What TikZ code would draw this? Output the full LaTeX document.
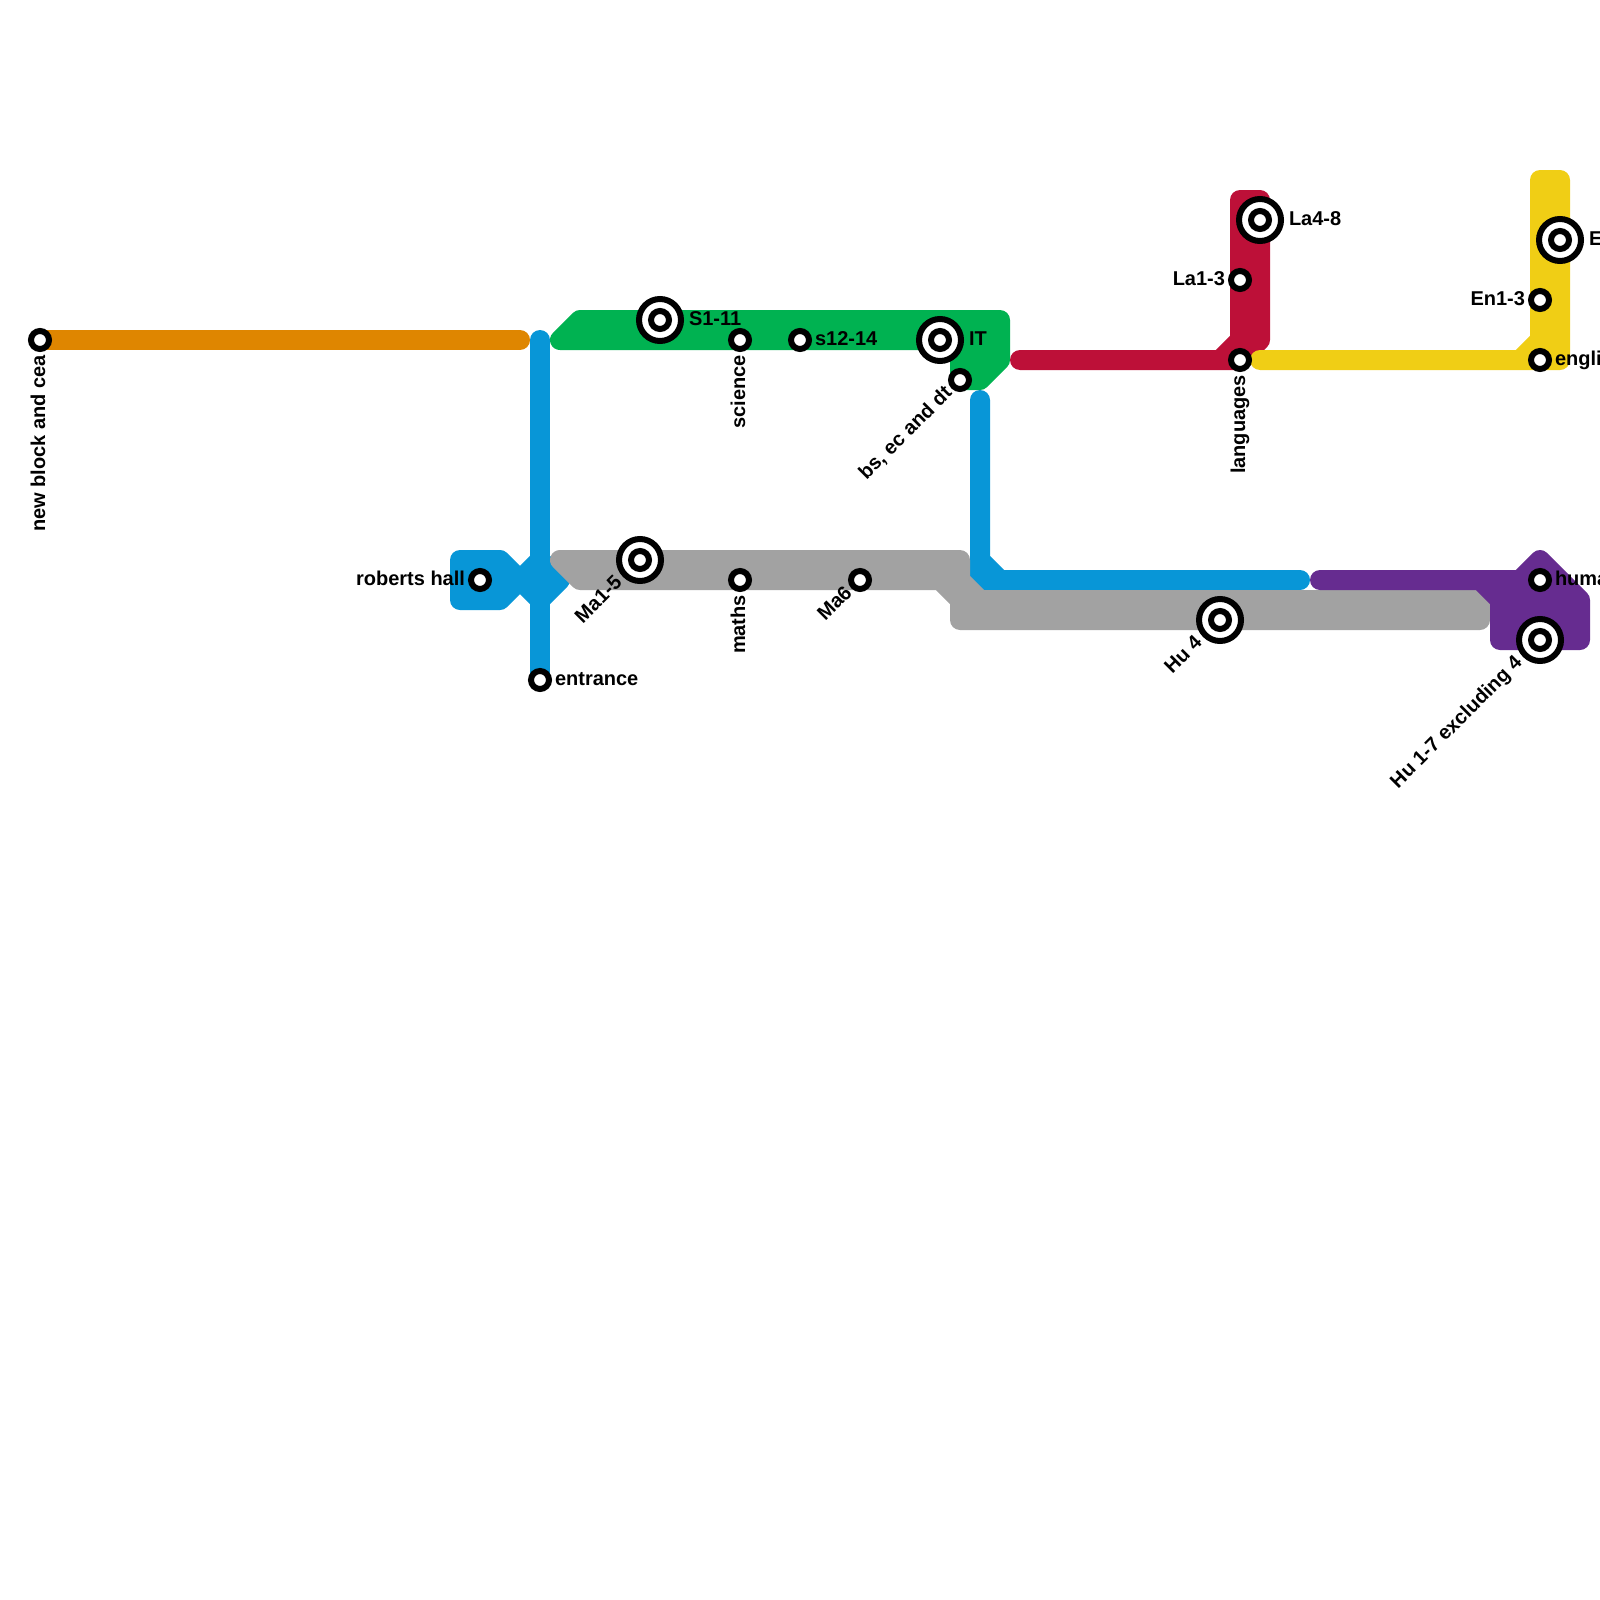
\documentclass[tikz,border=0pt]{standalone}
\usepackage{fontspec}
\setmainfont{Liberation Sans}
\usepackage{tikz}
\usetikzlibrary{positioning}

\definecolor{orangeline}{HTML}{DF8600}
\definecolor{blueline}{HTML}{0896D7}
\definecolor{greenline}{HTML}{00B251}
\definecolor{redline}{HTML}{BD1038}
\definecolor{yellowline}{HTML}{F0CE15}
\definecolor{greyline}{HTML}{A2A2A2}
\definecolor{purpleline}{HTML}{662C90}

\begin{document}
\begin{tikzpicture}[
          x=1pt, y=-1pt,
          route/.style={line width=20pt, line cap=round, line join=round},
          blob/.style={route, draw=#1, fill=#1},
          stn/.style={circle, draw=black, fill=white, line width=6pt, minimum size=18pt, inner sep=0pt},
          bigstn/.style={circle, draw=black, fill=white, line width=6pt, minimum size=42pt, inner sep=0pt,
            path picture={\draw[line width=6pt, fill=white] (path picture bounding box.center) circle (9pt);}},
          lbl/.style={font=\fontsize{20}{24}\selectfont\bfseries, text height=15pt, text depth=5pt, inner xsep=3pt, inner ysep=0pt, outer sep=0pt},
          biglbl/.style={lbl, inner xsep=5pt}
        ]
          \useasboundingbox (0,0) rectangle (1600,1600);

          % lines
          \draw[route, orangeline] (40,340) -- (520,340);
          \draw[route, blueline] (540,340) -- (540,680);
          \draw[blob=blueline] (460,560) -- (500,560) -- (520,580) -- (500,600) -- (460,600) -- cycle;
          \draw[blob=blueline] (540,560) -- (560,580) -- (540,600) -- (520,580) -- cycle;
          \draw[blob=blueline] (980,400) -- (980,580) -- (1300,580) -- (1000,580) -- (980,560);
          \draw[blob=greyline] (560,560) -- (960,560) -- (960,580) -- (980,600) -- (1480,600) -- (1480,620)
            -- (960,620) -- (960,600) -- (940,580) -- (580,580) -- cycle;
          \draw[blob=purpleline] (1320,580) -- (1520,580) -- (1540,560) -- (1580,600) -- (1580,640)
            -- (1500,640) -- (1500,600) -- (1480,580) -- cycle;
          \draw[blob=greenline] (560,340) -- (580,320) -- (1000,320) -- (1000,360) -- (980,380) -- (960,380)
            -- (960,340) -- cycle;
          \draw[blob=redline] (1240,200) -- (1260,200) -- (1260,340) -- (1240,360) -- (1020,360) -- (1220,360)
            -- (1240,340) -- cycle;
          \draw[blob=yellowline] (1540,180) -- (1560,180) -- (1560,360) -- (1260,360) -- (1520,360)
            -- (1540,340) -- cycle;

          % stations
          \node[stn] (newblock) at (40,340) {};
          \node[stn] (roberts) at (480,580) {};
          \node[stn] (entrance) at (540,680) {};
          \node[bigstn] (sone) at (660,320) {};
          \node[stn] (science) at (740,340) {};
          \node[stn] (stwelve) at (800,340) {};
          \node[bigstn] (it) at (940,340) {};
          \node[stn] (bsec) at (960,380) {};
          \node[bigstn] (maone) at (640,560) {};
          \node[stn] (maths) at (740,580) {};
          \node[stn] (masix) at (860,580) {};
          \node[bigstn] (hufour) at (1220,620) {};
          \node[stn] (languages) at (1240,360) {};
          \node[stn] (laone) at (1240,280) {};
          \node[bigstn] (lafour) at (1260,220) {};
          \node[bigstn] (enfour) at (1560,240) {};
          \node[stn] (enone) at (1540,300) {};
          \node[stn] (english) at (1540,360) {};
          \node[stn] (humanities) at (1540,580) {};
          \node[bigstn] (huone) at (1540,640) {};

          % labels
          \node[lbl, rotate=90, anchor=east] (newblocklbl) at (newblock.south) {new block and cea};
          \node[lbl, left=0pt of roberts] (robertslbl) {roberts hall};
          \node[lbl, right=0pt of entrance] (entrancelbl) {entrance};
          \node[biglbl, right=0pt of sone] (sonelbl) {S1-11};
          \node[lbl, rotate=90, anchor=east] (sciencelbl) at (science.south) {science};
          \node[lbl, right=0pt of stwelve] (stwelvelbl) {s12-14};
          \node[biglbl, right=0pt of it] (itlbl) {IT};
          \node[lbl, rotate=45, anchor=east] (bseclbl) at (bsec.south west) {bs, ec and dt};
          \node[biglbl, rotate=45, anchor=east] (maonelbl) at (maone.south west) {Ma1-5};
          \node[lbl, rotate=90, anchor=east] (mathslbl) at (maths.south) {maths};
          \node[lbl, rotate=45, anchor=east] (masixlbl) at (masix.south west) {Ma6};
          \node[biglbl, rotate=45, anchor=east] (hufourlbl) at (hufour.south west) {Hu 4};
          \node[lbl, rotate=90, anchor=east] (languageslbl) at (languages.south) {languages};
          \node[lbl, left=0pt of laone] (laonelbl) {La1-3};
          \node[biglbl, right=0pt of lafour] (lafourlbl) {La4-8};
          \node[biglbl, right=0pt of enfour] (enfourlbl) {E};
          \node[lbl, left=0pt of enone] (enonelbl) {En1-3};
          \node[lbl, right=0pt of english] (englishlbl) {engli};
          \node[lbl, right=0pt of humanities] (humanitieslbl) {huma};
          \node[biglbl, rotate=45, anchor=east] (huonelbl) at (huone.south west) {Hu 1-7 excluding 4};
        \end{tikzpicture}
\end{document}
